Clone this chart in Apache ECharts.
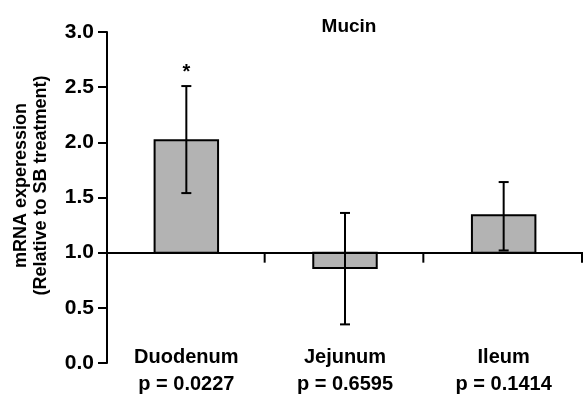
<!DOCTYPE html>
<html>
<head>
<meta charset="utf-8">
<script src="https://cdn.jsdelivr.net/npm/echarts@6/dist/echarts.min.js"></script>
<style>
  html, body {margin: 0; padding: 0; background: #fff;}
  #chart {width: 584px; height: 398px;}
</style>
</head>
<body>
<div id="chart"></div>
<script>
const categories = ["Duodenum", "Jejunum", "Ileum"];
const pValues = ["p = 0.0227", "p = 0.6595", "p = 0.1414"];
const means = [2.02, 0.86, 1.34];
const errLow = [1.54, 0.35, 1.02];
const errHigh = [2.51, 1.36, 1.64];
const significant = [true, false, false];
const baseline = 1.0;
const yTicks = [0, 0.5, 1.0, 1.5, 2.0, 2.5, 3.0];

const font = "Arial, 'Liberation Sans', sans-serif";

const seriesData = categories.map((c, i) => [i, means[i], errLow[i], errHigh[i], significant[i] ? 1 : 0]);

const renderBar = (params, api) => {
  const idx = api.value(0);
  const band = api.size([1, 0])[0];
  const barW = band * 0.4;
  const capW = 10;
  const base = api.coord([idx, baseline]);
  const top = api.coord([idx, api.value(1)]);
  const lo = api.coord([idx, api.value(2)]);
  const hi = api.coord([idx, api.value(3)]);
  const x = base[0];
  const y1 = Math.min(base[1], top[1]);
  const y2 = Math.max(base[1], top[1]);
  const line = {stroke: "#000", lineWidth: 2};
  const children = [
    {type: "rect", shape: {x: x - barW / 2, y: y1, width: barW, height: y2 - y1},
      style: {fill: "#b3b3b3", stroke: "#000", lineWidth: 2}},
    {type: "line", shape: {x1: x, y1: lo[1], x2: x, y2: hi[1]}, style: line},
    {type: "line", shape: {x1: x - capW / 2, y1: lo[1], x2: x + capW / 2, y2: lo[1]}, style: line},
    {type: "line", shape: {x1: x - capW / 2, y1: hi[1], x2: x + capW / 2, y2: hi[1]}, style: line},
    // category boundary tick hanging below the baseline
    {type: "line", shape: {x1: x + band / 2 - 1, y1: base[1], x2: x + band / 2 - 1, y2: base[1] + 10}, style: line},
  ];
  if (api.value(4)) {
    children.push({type: "text", style: {text: "*", x: x, y: hi[1] - 14, align: "center", verticalAlign: "middle",
      font: "bold 20px " + font, fill: "#000"}});
  }
  return {type: "group", children: children};
};

const chart = echarts.init(document.getElementById("chart"), null, {renderer: "canvas"});
chart.setOption({
  animation: false,
  backgroundColor: "#fff",
  title: {
    text: "Mucin", left: 344, top: 12, textAlign: "center",
    textStyle: {fontFamily: font, fontSize: 19, fontWeight: "bold", color: "#000"},
  },
  grid: {left: 107, right: 1, top: 32, bottom: 35},
  xAxis: {
    type: "category",
    data: categories,
    axisLine: {show: false},
    axisTick: {show: false},
    axisLabel: {
      margin: -14,
      interval: 0,
      formatter: (v, i) => "{a|" + v + "}\n{b|" + pValues[i] + "}",
      rich: {
        a: {fontFamily: font, fontSize: 20, fontWeight: "bold", color: "#000", lineHeight: 17},
        b: {fontFamily: font, fontSize: 20, fontWeight: "bold", color: "#000", lineHeight: 37},
      },
    },
  },
  yAxis: {
    type: "value",
    min: yTicks[0],
    max: yTicks[yTicks.length - 1],
    interval: 0.5,
    name: "mRNA experession\n(Relative to SB treatment)",
    nameLocation: "middle",
    nameGap: 56,
    nameTextStyle: {fontFamily: font, fontSize: 18, fontWeight: "bold", color: "#000", lineHeight: 20, padding: [0, 0, 0, 24]},
    axisLine: {show: true, lineStyle: {color: "#000", width: 2}},
    axisTick: {show: true, length: 9, lineStyle: {color: "#000", width: 2}},
    axisLabel: {margin: 13, fontFamily: font, fontSize: 21, fontWeight: "bold", color: "#000",
      formatter: (v) => v.toFixed(1)},
    splitLine: {show: false},
  },
  series: [{
    type: "custom",
    renderItem: renderBar,
    data: seriesData,
    encode: {x: 0, y: [1, 2, 3]},
    clip: false,
    markLine: {
      silent: true,
      symbol: "none",
      label: {show: false},
      lineStyle: {color: "#000", width: 2, type: "solid"},
      data: [{yAxis: baseline}],
    },
  }],
});
</script>
</body>
</html>
